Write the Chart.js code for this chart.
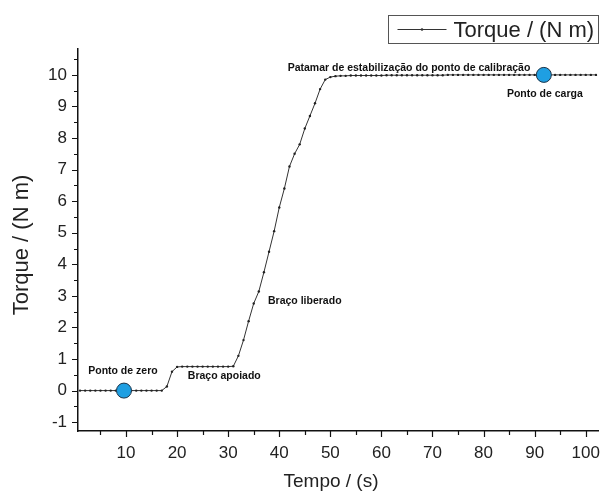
<!DOCTYPE html>
<html>
<head>
<meta charset="utf-8">
<script src="https://cdn.jsdelivr.net/npm/chart.js@4.4.0/dist/chart.umd.min.js"></script>
<style>
html,body{margin:0;padding:0;background:#fff;}
#wrap{width:600px;height:495px;position:relative;}
</style>
</head>
<body>
<div id="wrap"><canvas id="c" width="600" height="495"></canvas></div>
<script>
// ---- data ----
const timeS = [1,2,3,4,5,6,7,8,9,10,11,12,13,14,15,16,17,18,19,20,21,22,23,24,25,26,27,28,29,30,31,32,33,34,35,36,37,38,39,40,41,42,43,44,45,46,47,48,49,50,51,52,53,54,55,56,57,58,59,60,61,62,63,64,65,66,67,68,69,70,71,72,73,74,75,76,77,78,79,80,81,82,83,84,85,86,87,88,89,90,91,92,93,94,95,96,97,98,99,100,101,102];
const torque = [0,0,0,0,0,0,0,0,0,0,0,0,0,0,0,0,0,0.13,0.6,0.75,0.76,0.76,0.76,0.76,0.76,0.76,0.76,0.76,0.76,0.76,0.77,1.1,1.6,2.2,2.76,3.14,3.75,4.4,5.05,5.8,6.4,7.1,7.5,7.8,8.3,8.7,9.1,9.55,9.85,9.93,9.96,9.97,9.97,9.98,9.98,9.98,9.98,9.98,9.98,9.98,9.99,9.99,9.99,9.99,9.99,9.99,9.99,9.99,9.99,9.99,9.99,9.99,10,10,10,10,10,10,10,10,10,10,10,10,10,10,10,10,10,10,10,10,10,10,10,10,10,10,10,10,10,10];
const keyPointTime = [9.6, 91.8];
const keyPointTorque = [0, 10];
const xTickLabels = [10,20,30,40,50,60,70,80,90,100];
const yTickLabels = [-1,0,1,2,3,4,5,6,7,8,9,10];
const xMinorTicks = [5,15,25,35,45,55,65,75,85,95];
const yMinorTicks = [-0.5,0.5,1.5,2.5,3.5,4.5,5.5,6.5,7.5,8.5,9.5,10.5];
const seriesName = "Torque / (N m)";
const xTitle = "Tempo / (s)";
const yTitle = "Torque / (N m)";
const notes = [
  {text:"Patamar de estabilização do ponto de calibração", x:65.4, y:10.22, align:"center"},
  {text:"Ponto de carga", x:92, y:9.4, align:"center"},
  {text:"Braço liberado", x:37.8, y:2.85, align:"left"},
  {text:"Braço apoiado", x:22.1, y:0.46, align:"left"},
  {text:"Ponto de zero", x:2.6, y:0.63, align:"left"}
];

const FONT = "'Liberation Sans', Arial, sans-serif";

const mainData = timeS.map((t,i)=>({x:t, y:torque[i]}));
const keyData = keyPointTime.map((t,i)=>({x:t, y:keyPointTorque[i]}));

const extras = {
  id:'extras',
  afterDraw(chart){
    const ctx = chart.ctx;
    const xs = chart.scales.x, ys = chart.scales.y;
    const ca = chart.chartArea;
    ctx.save();
    ctx.strokeStyle = '#111';
    ctx.lineWidth = 1.2;
    // tick marks
    ctx.beginPath();
    xTickLabels.forEach(v=>{const p=Math.round(xs.getPixelForValue(v))+0.5; ctx.moveTo(p,ca.bottom); ctx.lineTo(p,ca.bottom+6);});
    xMinorTicks.forEach(v=>{const p=Math.round(xs.getPixelForValue(v))+0.5; ctx.moveTo(p,ca.bottom); ctx.lineTo(p,ca.bottom+4);});
    yTickLabels.forEach(v=>{const p=Math.round(ys.getPixelForValue(v))+0.5; ctx.moveTo(ca.left,p); ctx.lineTo(ca.left-6,p);});
    yMinorTicks.forEach(v=>{const p=Math.round(ys.getPixelForValue(v))+0.5; ctx.moveTo(ca.left,p); ctx.lineTo(ca.left-4,p);});
    ctx.stroke();
    // annotations
    ctx.fillStyle = '#111';
    ctx.font = "bold 10.5px " + FONT;
    ctx.textBaseline = 'middle';
    notes.forEach(n=>{
      ctx.textAlign = n.align;
      ctx.fillText(n.text, xs.getPixelForValue(n.x), ys.getPixelForValue(n.y));
    });
    // axis titles
    ctx.fillStyle = '#222';
    ctx.font = "19px " + FONT;
    ctx.textAlign = 'center';
    ctx.fillText(xTitle, 331, 482);
    ctx.save();
    ctx.translate(22, 245);
    ctx.rotate(-Math.PI/2);
    ctx.font = "22px " + FONT;
    ctx.fillText(yTitle, 0, 0);
    ctx.restore();
    // legend
    const bx=388.5, by=15.5, bw=210, bh=28;
    ctx.strokeStyle = '#555';
    ctx.lineWidth = 1;
    ctx.strokeRect(bx,by,bw,bh);
    const ly = by+bh/2;
    ctx.strokeStyle = '#333';
    ctx.beginPath(); ctx.moveTo(bx+9,ly); ctx.lineTo(bx+58,ly); ctx.stroke();
    ctx.fillStyle = '#333';
    ctx.beginPath(); ctx.arc(bx+33.5,ly,1.3,0,Math.PI*2); ctx.fill();
    ctx.fillStyle = '#222';
    ctx.font = "22px " + FONT;
    ctx.textAlign = 'left';
    ctx.fillText(seriesName, bx+65, ly+1);
    ctx.restore();
  }
};

new Chart(document.getElementById('c'), {
  type:'scatter',
  data:{datasets:[
    {label:seriesName, data:mainData, showLine:true, borderColor:'#333', borderWidth:1, pointRadius:1.2, pointBackgroundColor:'#222', pointBorderWidth:0, order:2, clip:false},
    {label:'keys', data:keyData, showLine:false, pointRadius:7.5, pointBackgroundColor:'#1f9fe2', pointBorderColor:'#1d3347', pointBorderWidth:1, order:1, clip:false}
  ]},
  options:{
    responsive:false, animation:false, devicePixelRatio:1,
    layout:{autoPadding:false, padding:{top:49, right:2, left:0, bottom:0}},
    plugins:{legend:{display:false}, tooltip:{enabled:false}},
    scales:{
      x:{type:'linear', min:0.6, max:102.4,
        afterBuildTicks(s){ s.ticks = xTickLabels.map(v=>({value:v})); },
        afterFit(s){ s.height = 64; s.paddingLeft = 0; s.paddingRight = 0; },
        grid:{display:false, drawTicks:false},
        border:{display:true, color:'#111', width:1.5},
        ticks:{padding:12, color:'#222', font:{family:FONT, size:17}, maxRotation:0, autoSkip:false}
      },
      y:{type:'linear', min:-1.28, max:10.82,
        afterBuildTicks(s){ s.ticks = yTickLabels.map(v=>({value:v})); },
        afterFit(s){ s.width = 78; s.paddingTop = 0; s.paddingBottom = 0; },
        grid:{display:false, drawTicks:false},
        border:{display:true, color:'#111', width:1.5},
        ticks:{padding:11, color:'#222', font:{family:FONT, size:17}, autoSkip:false}
      }
    }
  },
  plugins:[extras]
});
</script>
</body>
</html>
